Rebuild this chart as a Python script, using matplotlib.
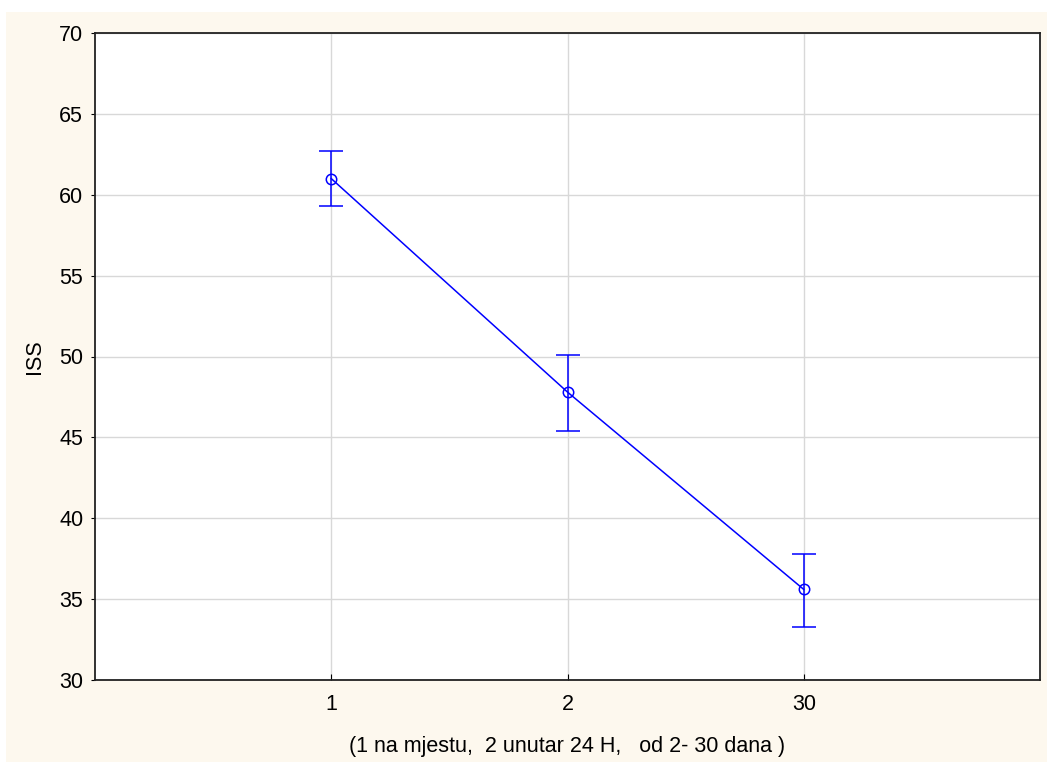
import numpy as np
import matplotlib
matplotlib.use("Agg")
from matplotlib import pyplot as plt
from matplotlib.patches import Rectangle

plt.rcParams['font.family'] = ['Liberation Sans', 'DejaVu Sans']

# data
categories = ["1", "2", "30"]
iss_mean = [61.0, 47.8, 35.6]
iss_upper = [62.7, 50.1, 37.8]
iss_lower = [59.3, 45.4, 33.3]

x = np.arange(1, len(categories) + 1)
mean = np.array(iss_mean)
err = [mean - np.array(iss_lower), np.array(iss_upper) - mean]

W, H = 1047, 762
fig = plt.figure(figsize=(W / 100, H / 100), dpi=100)
fig.patch.set_facecolor("white")
fig.patches.append(Rectangle((6 / W, 0), 1 - 6 / W, 1 - 12 / H,
                             transform=fig.transFigure, facecolor="#fdf8ee",
                             edgecolor="none", zorder=-10))

ax = fig.add_axes([95 / W, (H - 680) / H, 945 / W, 647 / H])
ax.set_facecolor("white")
ax.errorbar(x, mean, yerr=err, color="#0000ff", linewidth=1.1,
            marker="o", markersize=7.5, markerfacecolor="none",
            markeredgewidth=1.1, capsize=8.5, capthick=1.1, elinewidth=1.1,
            zorder=3)

ax.set_xlim(0, 4)
ax.set_ylim(30, 70)
ax.set_xticks(x)
ax.set_xticklabels(categories)
ax.set_yticks(np.arange(30, 71, 5))
ax.grid(True, color="#d8d8d8", linewidth=1.0)
ax.set_axisbelow(True)
for s in ax.spines.values():
    s.set_linewidth(1.3)
    s.set_color("#222222")
ax.tick_params(axis="x", direction="in", length=4, labelsize=15.5, pad=10)
ax.tick_params(axis="y", direction="out", length=3, labelsize=15.5, pad=5.5)
ax.set_ylabel("ISS", fontsize=15.5, labelpad=10)
ax.set_xlabel("(1 na mjestu,  2 unutar 24 H,   od 2- 30 dana )", fontsize=15.5,
              labelpad=15)

fig.savefig("out.png", dpi=100, facecolor=fig.get_facecolor())
